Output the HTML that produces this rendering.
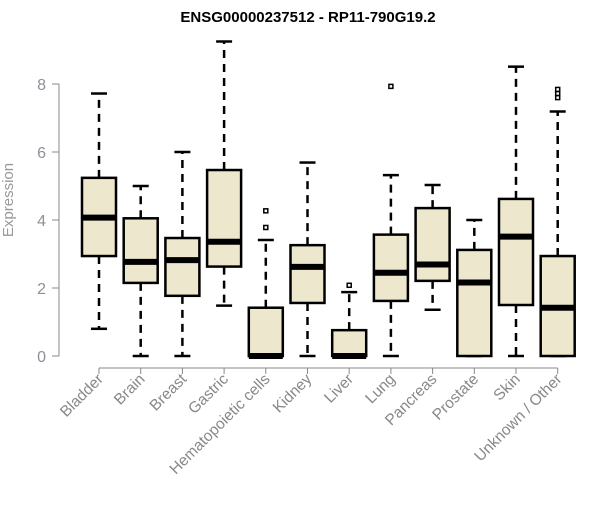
<!DOCTYPE html>
<html><head><meta charset="utf-8"><style>
body{margin:0;background:#fff;width:600px;height:500px;overflow:hidden}
svg{font-family:"Liberation Sans",Arial,sans-serif}
</style></head><body>
<svg id="chart" width="600" height="500">
<text x="308" y="22" text-anchor="middle" font-weight="bold" font-size="15" fill="#000">ENSG00000237512 - RP11-790G19.2</text>
<text transform="translate(13,200) rotate(-90)" text-anchor="middle" font-size="15" fill="#999">Expression</text>
<g id="axes"></g><g id="boxes"></g>
</svg>
<script>
const categories=["Bladder","Brain","Breast","Gastric","Hematopoietic cells","Kidney","Liver","Lung","Pancreas","Prostate","Skin","Unknown / Other"];
const whiskLow=[0.80,0,0,1.48,0,0,0,0,1.36,0,0,0];
const q1=[2.94,2.15,1.77,2.63,0,1.56,0,1.62,2.21,0,1.5,0];
const medians=[4.07,2.77,2.82,3.36,0,2.62,0,2.45,2.69,2.16,3.51,1.42];
const q3=[5.24,4.05,3.47,5.47,1.42,3.26,0.76,3.57,4.35,3.12,4.62,2.94];
const whiskHigh=[7.72,5.0,6.0,9.25,3.41,5.69,1.88,5.32,5.03,4.0,8.51,7.19];
const outliers=[[],[],[],[],[4.27,3.78],[],[2.08],[7.93],[],[],[],[7.84,7.72,7.6]];
const yTicks=[0,2,4,6,8];
const NS="http://www.w3.org/2000/svg";
const y=v=>356-v*34;
const x=i=>99+i*41.7;
const ax=document.getElementById('axes'),bx=document.getElementById('boxes');
function mk(p,t,a){const e=document.createElementNS(NS,t);for(const k in a)e.setAttribute(k,a[k]);p.appendChild(e);return e;}
let yl=mk(ax,'line',{x1:59,x2:59,y1:y(0),y2:y(8),stroke:'#888'});


yTicks.forEach(t=>{
 mk(ax,'line',{x1:52,x2:59,y1:y(t),y2:y(t),stroke:'#888'});
 const tx=mk(ax,'text',{x:46,y:y(t)+6,'text-anchor':'end','font-size':16,fill:'#8f8f99'});
 tx.textContent=t;
 
 
});
let xl=mk(ax,'line',{x1:x(0),x2:x(categories.length-1),y1:368,y2:368,stroke:'#888'});


categories.forEach((c,i)=>{
 const cx=x(i);
 mk(ax,'line',{x1:cx,x2:cx,y1:368,y2:374,stroke:'#888'});
 const tx=mk(ax,'text',{transform:`translate(${cx+5},${380}) rotate(-45)`,'text-anchor':'end','font-size':15.5,fill:'#888'});
 tx.textContent=c;
 
 
 const g=mk(bx,'g',{});
 
 
 const dash={stroke:'#000','stroke-width':2.5,'stroke-dasharray':'8,6'};
 mk(g,'line',Object.assign({x1:cx,x2:cx,y1:y(q3[i]),y2:y(whiskHigh[i])},dash));
 mk(g,'line',Object.assign({x1:cx,x2:cx,y1:y(q1[i]),y2:y(whiskLow[i])},dash));
 mk(g,'line',{x1:cx-8,x2:cx+8,y1:y(whiskHigh[i]),y2:y(whiskHigh[i]),stroke:'#000','stroke-width':2.5});
 mk(g,'line',{x1:cx-8,x2:cx+8,y1:y(whiskLow[i]),y2:y(whiskLow[i]),stroke:'#000','stroke-width':2.5});
 mk(g,'rect',{x:cx-17,y:y(q3[i]),width:34,height:Math.max(0,y(q1[i])-y(q3[i])),fill:'#ede7cd',stroke:'#000','stroke-width':2.5});
 mk(g,'line',{x1:cx-17,x2:cx+17,y1:y(medians[i]),y2:y(medians[i]),stroke:'#000','stroke-width':6});
 outliers[i].forEach(o=>{
  const r=mk(g,'rect',{x:cx-2,y:y(o)-2,width:4,height:4,fill:'none',stroke:'#000','stroke-width':1.5});
  
  
 });
});
</script>
</body></html>
